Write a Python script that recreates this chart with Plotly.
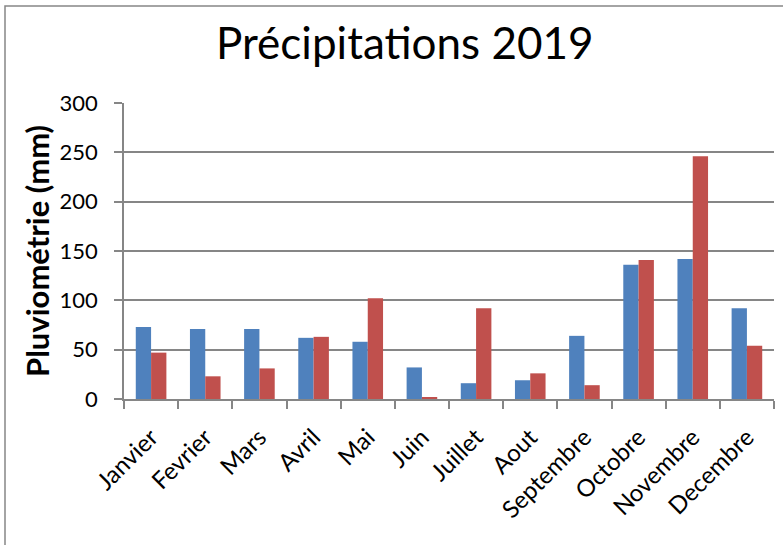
import plotly.graph_objects as go

months = ["Janvier", "Fevrier", "Mars", "Avril", "Mai", "Juin", "Juillet",
          "Aout", "Septembre", "Octobre", "Novembre", "Decembre"]
serie_bleue = [73, 71, 71, 62, 58, 32, 16, 19, 64, 136, 142, 92]
serie_rouge = [47, 23, 31, 63, 102, 1.5, 92, 26, 14, 141, 246, 54]
y_ticks = [0, 50, 100, 150, 200, 250, 300]

W, H = 783, 545
L, R, T, B = 124, 9, 103, 146
pw, ph = W - L - R, H - T - B

def px_x(p):
    return (p - L) / pw

def px_y(p):
    return (H - B - p) / ph

fig = go.Figure()
fig.add_trace(go.Bar(x=months, y=serie_bleue, marker=dict(color="#4F81BD", line=dict(width=0)), name="2019"))
fig.add_trace(go.Bar(x=months, y=serie_rouge, marker=dict(color="#C0504D", line=dict(width=0)), name="Normale"))

font_family = "Lato, 'Open Sans', sans-serif"

fig.update_layout(
    width=W, height=H,
    margin=dict(l=L, r=R, t=T, b=B),
    paper_bgcolor="white", plot_bgcolor="white",
    barmode="group", bargap=0.435, bargroupgap=0,
    showlegend=False,
    font=dict(family=font_family, color="black"),
    xaxis=dict(
        type="category", tickangle=-45, tickson="boundaries",
        ticks="outside", ticklen=8, tickcolor="#868686", tickwidth=1.5,
        showline=True, linecolor="#868686", linewidth=1.5,
        showgrid=False, tickfont=dict(size=24, family=font_family),
        ticklabelstandoff=13,
    ),
    yaxis=dict(
        range=[0, 300], tickvals=y_ticks, ticks="outside", ticklen=8,
        tickcolor="#868686", tickwidth=1.5,
        showline=True, linecolor="#868686", linewidth=1.5,
        showgrid=True, gridcolor="#868686", gridwidth=1.5,
        zeroline=False, tickfont=dict(size=22, family=font_family),
        ticklabelstandoff=12,
    ),
    annotations=[
        dict(text="Précipitations 2019", xref="paper", yref="paper",
             x=px_x(404.5), y=px_y(42), xanchor="center", yanchor="middle",
             showarrow=False, font=dict(size=44, family=font_family, color="black")),
        dict(text="<b>Pluviométrie (mm)</b>", xref="paper", yref="paper",
             x=px_x(37), y=px_y(251), xanchor="center", yanchor="middle",
             textangle=-90, showarrow=False,
             font=dict(size=31, family=font_family, color="black")),
    ],
    shapes=[
        dict(type="rect", xref="paper", yref="paper",
             x0=px_x(5), x1=px_x(800), y0=px_y(560), y1=px_y(6),
             line=dict(color="#868686", width=1.5), fillcolor="rgba(0,0,0,0)",
             layer="below"),
    ],
)

fig.write_html("out.html")
